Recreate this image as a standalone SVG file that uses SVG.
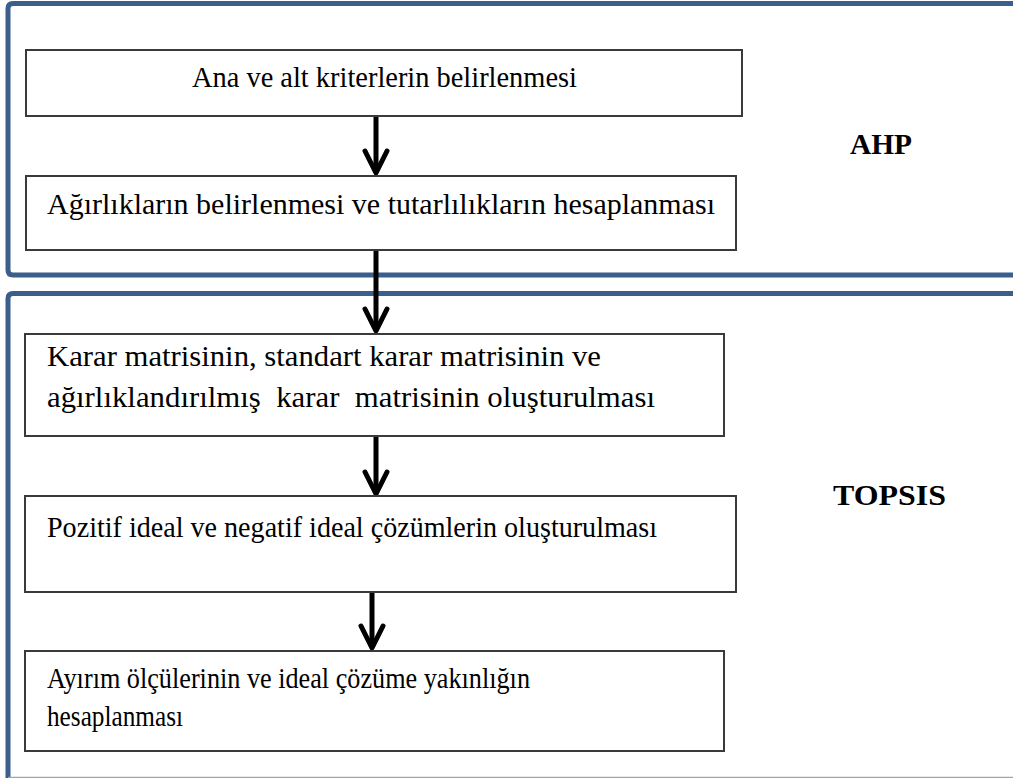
<svg xmlns="http://www.w3.org/2000/svg" width="1013" height="778" viewBox="0 0 1013 778">
<style>
.frame{fill:none;stroke:#3B5E8C;stroke-width:5}
.box{fill:#fff;stroke:#3a3a3a;stroke-width:2}
.t{font-family:"Liberation Serif","Times New Roman",serif;font-size:29px;fill:#000}
.lbl{font-family:"Liberation Serif","Times New Roman",serif;font-size:29px;font-weight:bold;fill:#000}
.arr{fill:none;stroke:#000;stroke-width:5;marker-end:url(#head)}
</style>
<defs>
<marker id="head" markerUnits="userSpaceOnUse" viewBox="-30 -16 40 32" markerWidth="40" markerHeight="32" refX="0" refY="0" orient="auto">
<path d="M-21,-11 L1,0 L-21,11" fill="none" stroke="#000" stroke-width="5" stroke-linejoin="round" stroke-linecap="round"/>
</marker>
</defs>
<rect width="1013" height="778" fill="#fff"/>
<g id="frame-ahp">
<path class="frame" d="M1020,3.5 H13 Q8,3.5 8,8.5 V270 Q8,275 13,275 H1020"/>
<text class="lbl" x="850" y="154" textLength="62" lengthAdjust="spacingAndGlyphs">AHP</text>
</g>
<g id="frame-topsis">
<path class="frame" d="M1020,293.5 H13 Q8,293.5 8,298.5 V778"/>
<line x1="8" y1="777.5" x2="1013" y2="777.5" stroke="#9aa6b8" stroke-width="1.5"/>
<text class="lbl" x="833" y="505" textLength="113" lengthAdjust="spacingAndGlyphs">TOPSIS</text>
</g>
<g id="connectors">
<path class="arr" d="M376,116 V172"/>
<path class="arr" d="M376,250 V330"/>
<path class="arr" d="M376,436 V493"/>
<path class="arr" d="M372,592 V647"/>
</g>
<g id="n1">
<rect class="box" x="26" y="50" width="716" height="66"/>
<text class="t" x="192" y="87" textLength="385" lengthAdjust="spacingAndGlyphs">Ana ve alt kriterlerin belirlenmesi</text>
</g>
<g id="n2">
<rect class="box" x="26" y="176" width="710" height="74"/>
<text class="t" x="47" y="214" textLength="668" lengthAdjust="spacingAndGlyphs">Ağırlıkların belirlenmesi ve tutarlılıkların hesaplanması</text>
</g>
<g id="n3">
<rect class="box" x="25" y="334" width="699" height="102"/>
<text class="t" x="47" y="366" textLength="554" lengthAdjust="spacingAndGlyphs">Karar matrisinin, standart karar matrisinin ve</text>
<text class="t" x="47" y="407" textLength="608" lengthAdjust="spacingAndGlyphs" xml:space="preserve">ağırlıklandırılmış  karar  matrisinin oluşturulması</text>
</g>
<g id="n4">
<rect class="box" x="25" y="496" width="711" height="96"/>
<text class="t" x="47" y="537" textLength="610" lengthAdjust="spacingAndGlyphs">Pozitif ideal ve negatif ideal çözümlerin oluşturulması</text>
</g>
<g id="n5">
<rect class="box" x="25" y="651" width="699" height="100"/>
<text class="t" x="47" y="688" textLength="483" lengthAdjust="spacingAndGlyphs">Ayırım ölçülerinin ve ideal çözüme yakınlığın</text>
<text class="t" x="47" y="726" textLength="136" lengthAdjust="spacingAndGlyphs">hesaplanması</text>
</g>
</svg>
